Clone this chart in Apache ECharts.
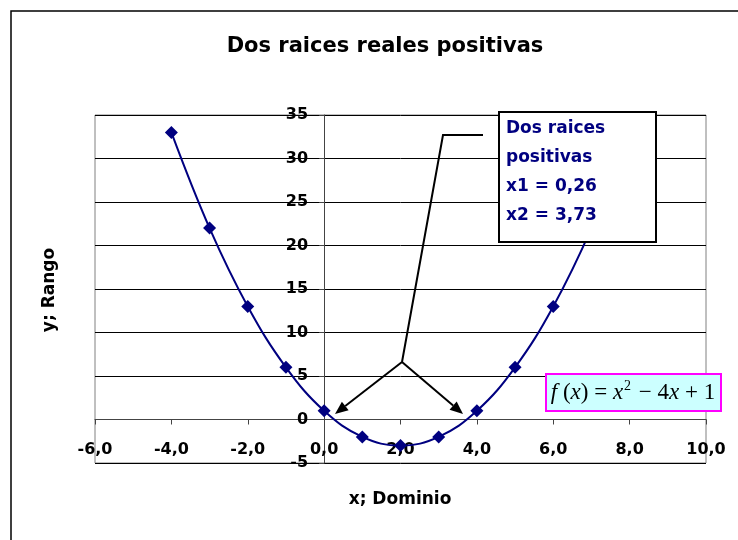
<!DOCTYPE html>
<html>
<head>
<meta charset="utf-8">
<script src="https://cdn.jsdelivr.net/npm/echarts@6/dist/echarts.min.js"></script>
<style>
html,body{margin:0;padding:0;background:#fff;}
#c{width:738px;height:540px;}
</style>
</head>
<body>
<div id="c"></div>
<script>
// ---- data ----
var xValues = [-4, -3, -2, -1, 0, 1, 2, 3, 4, 5, 6, 7, 8];
var yValues = [33, 22, 13, 6, 1, -2, -3, -2, 1, 6, 13, 22, 33];
var chartTitle = 'Dos raices reales positivas';
var xAxisTitle = 'x; Dominio';
var yAxisTitle = 'y; Rango';
var noteLines = ['Dos raices', 'positivas', 'x1 = 0,26', 'x2 = 3,73'];

var FONT = '"DejaVu Sans", sans-serif';
var NAVY = '#000080';
var GRID = {left: 95, top: 115, right: 32, bottom: 77};

var pts = xValues.map(function (x, i) { return [x, yValues[i]]; });

var chart = echarts.init(document.getElementById('c'), null, {renderer: 'canvas'});

function arrow(x1, y1, x2, y2) {
  var dx = x2 - x1, dy = y2 - y1, L = Math.sqrt(dx * dx + dy * dy);
  var ux = dx / L, uy = dy / L, hl = 13, hw = 5.5;
  var bx = x2 - ux * hl, by = y2 - uy * hl;
  return [
    {type: 'line', z: 50, shape: {x1: x1, y1: y1, x2: bx, y2: by}, style: {stroke: '#000', lineWidth: 2}},
    {type: 'polygon', z: 50, shape: {points: [[x2, y2], [bx - uy * hw, by + ux * hw], [bx + uy * hw, by - ux * hw]]}, style: {fill: '#000'}}
  ];
}

var graphics = [
  {type: 'rect', z: 0, shape: {x: 11, y: 11, width: 800, height: 600}, style: {fill: 'none', stroke: '#000', lineWidth: 1.5}},
  {type: 'text', z: 10, x: 50, y: 290, rotation: Math.PI / 2,
    style: {text: yAxisTitle, font: 'bold 17px ' + FONT, fill: '#000', align: 'center', verticalAlign: 'middle'}},
  {type: 'text', z: 10, x: 400, y: 500,
    style: {text: xAxisTitle, font: 'bold 17px ' + FONT, fill: '#000', align: 'center', verticalAlign: 'middle'}},
  {type: 'polyline', z: 50, shape: {points: [[483, 135], [443, 135], [402, 362]]}, style: {stroke: '#000', lineWidth: 2, fill: 'none'}},
  {type: 'rect', z: 100, shape: {x: 499, y: 112, width: 157, height: 130}, style: {fill: '#fff', stroke: '#000', lineWidth: 2}},
  {type: 'text', z: 101, x: 506, y: 114,
    style: {text: noteLines.join('\n'), font: 'bold 17px ' + FONT, fill: NAVY, lineHeight: 29, align: 'left', verticalAlign: 'top'}},
  {type: 'rect', z: 100, shape: {x: 546, y: 374, width: 175, height: 37}, style: {fill: '#CCFFFF', stroke: '#FF00FF', lineWidth: 2}},
  {type: 'text', z: 101, x: 633, y: 393,
    style: {
      text: '{i|f}{n| (}{i|x}{n|) = }{i|x}{s|2}{n| − 4}{i|x}{n| + 1}',
      align: 'center', verticalAlign: 'middle',
      rich: {
        i: {fontFamily: '"Liberation Serif", serif', fontStyle: 'italic', fontSize: 23, fill: '#000', lineHeight: 28},
        n: {fontFamily: '"Liberation Serif", serif', fontSize: 23, fill: '#000', lineHeight: 28},
        s: {fontFamily: '"Liberation Serif", serif', fontSize: 14, fill: '#000', lineHeight: 28, verticalAlign: 'top', padding: [0, 2, 0, 1]}
      }
    }}
];
graphics = graphics.concat(arrow(402, 362, 335, 414), arrow(402, 362, 463, 414));

var option = {
  backgroundColor: '#fff',
  animation: false,
  title: {
    text: chartTitle, left: 380, top: 31, textAlign: 'center',
    textStyle: {fontFamily: FONT, fontWeight: 'bold', fontSize: 21, color: '#000'}
  },
  grid: {left: GRID.left, top: GRID.top, right: GRID.right, bottom: GRID.bottom, show: true, borderColor: '#808080', borderWidth: 1, backgroundColor: '#fff'},
  xAxis: {
    type: 'value', min: -6, max: 10, interval: 2,
    axisLine: {onZero: false, lineStyle: {color: '#444', width: 1}},
    axisTick: {show: true, length: 5, lineStyle: {color: '#444'}},
    axisLabel: {margin: 22, fontFamily: FONT, fontWeight: 'bold', fontSize: 16, color: '#000',
      formatter: function (v) { return v.toFixed(1).replace('.', ','); }},
    splitLine: {show: false}
  },
  yAxis: {
    type: 'value', min: -5, max: 35, interval: 5,
    axisLine: {onZero: false, lineStyle: {color: '#444', width: 1}},
    axisTick: {show: true, length: 5, lineStyle: {color: '#444'}},
    axisLabel: {margin: 16, fontFamily: FONT, fontWeight: 'bold', fontSize: 16, color: '#000'},
    splitLine: {show: true, lineStyle: {color: '#000', width: 1}}
  },
  series: [{
    type: 'line', data: pts, smooth: 0.4,
    lineStyle: {color: NAVY, width: 2},
    itemStyle: {color: NAVY},
    symbol: 'diamond', symbolSize: 13, showSymbol: true, clip: false
  }],
  graphic: graphics
};
chart.setOption(option);

// move axes so they cross at zero (labels travel with them)
var px0 = chart.convertToPixel({xAxisIndex: 0}, 0);
var py0 = chart.convertToPixel({yAxisIndex: 0}, 0);
var H = chart.getHeight();
chart.setOption({
  xAxis: {offset: -((H - GRID.bottom) - py0)},
  yAxis: {offset: -(px0 - GRID.left)}
});
</script>
</body>
</html>
